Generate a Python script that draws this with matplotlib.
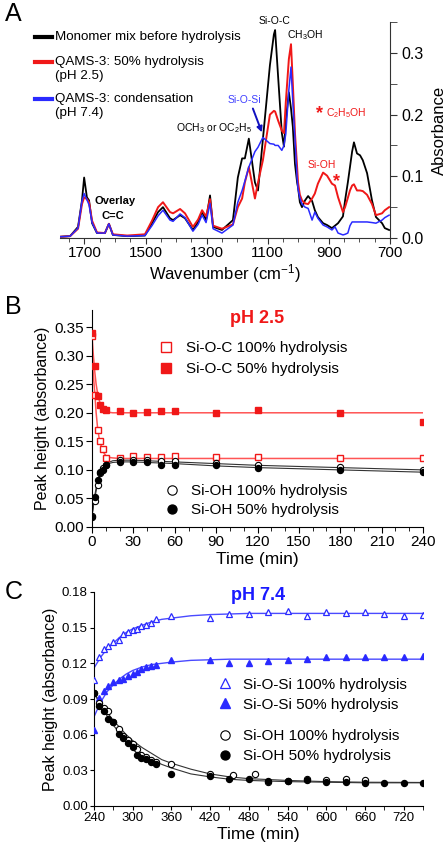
import matplotlib
matplotlib.use('Agg')
import matplotlib.pyplot as plt
from matplotlib.lines import Line2D
from matplotlib.ticker import MultipleLocator, FormatStrFormatter

plt.rcParams['font.family'] = ['Liberation Sans', 'DejaVu Sans']
plt.rcParams['mathtext.default'] = 'regular'

# ---------------- Panel A data (FTIR spectra) ----------------
wavenumber = [1780, 1747, 1721, 1708, 1701, 1692, 1685, 1675, 1659, 1633, 1620, 1607,
              1560, 1502, 1479, 1459, 1443, 1420, 1410, 1387, 1371, 1345, 1328, 1315,
              1302, 1289, 1279, 1250, 1214, 1198, 1184, 1175, 1162, 1142, 1132, 1116,
              1093, 1080, 1076, 1066, 1054, 1047, 1041, 1031, 1024, 1018, 1011, 1004,
              1001, 995, 988, 978, 968, 955, 946, 936, 919, 906, 890, 880, 870, 854,
              847, 838, 831, 824, 818, 808, 798, 789, 775, 759, 746, 726, 717, 703]
abs_monomer = [0.002, 0.003, 0.018, 0.061, 0.098, 0.066, 0.061, 0.024, 0.008, 0.008, 0.023, 0.005,
               0.003, 0.004, 0.024, 0.042, 0.050, 0.032, 0.029, 0.037, 0.032, 0.013, 0.026, 0.042,
               0.029, 0.069, 0.018, 0.013, 0.029, 0.098, 0.129, 0.129, 0.161, 0.090, 0.077, 0.160,
               0.280, 0.330, 0.337, 0.260, 0.170, 0.148, 0.190, 0.236, 0.210, 0.180, 0.120, 0.090,
               0.082, 0.058, 0.050, 0.061, 0.068, 0.060, 0.045, 0.034, 0.024, 0.021, 0.016, 0.020, 0.024, 0.035,
               0.061, 0.090, 0.115, 0.140, 0.155, 0.137, 0.134, 0.126, 0.105, 0.061, 0.034, 0.024, 0.016, 0.013]
abs_hydrolysis = [0.002, 0.003, 0.015, 0.055, 0.066, 0.063, 0.058, 0.028, 0.009, 0.008, 0.023, 0.006,
                  0.004, 0.006, 0.028, 0.050, 0.058, 0.042, 0.040, 0.047, 0.040, 0.018, 0.030, 0.045,
                  0.035, 0.063, 0.020, 0.015, 0.022, 0.050, 0.064, 0.090, 0.115, 0.064, 0.090, 0.126,
                  0.200, 0.206, 0.205, 0.190, 0.174, 0.170, 0.220, 0.290, 0.314, 0.250, 0.170, 0.115,
                  0.090, 0.070, 0.061, 0.056, 0.055, 0.064, 0.072, 0.088, 0.106, 0.101, 0.088, 0.085, 0.066, 0.042,
                  0.050, 0.065, 0.077, 0.085, 0.087, 0.077, 0.077, 0.076, 0.070, 0.055, 0.037, 0.040, 0.045, 0.050]
abs_condensation = [0.002, 0.003, 0.016, 0.060, 0.072, 0.062, 0.054, 0.025, 0.008, 0.008, 0.023, 0.005,
                    0.003, 0.004, 0.020, 0.036, 0.045, 0.029, 0.027, 0.039, 0.033, 0.011, 0.022, 0.037,
                    0.025, 0.056, 0.015, 0.008, 0.021, 0.058, 0.077, 0.092, 0.115, 0.140, 0.147, 0.163,
                    0.153, 0.152, 0.150, 0.150, 0.142, 0.150, 0.169, 0.240, 0.277, 0.220, 0.160, 0.098,
                    0.080, 0.065, 0.055, 0.050, 0.048, 0.029, 0.042, 0.032, 0.021, 0.018, 0.013, 0.018, 0.008, 0.005,
                    0.006, 0.008, 0.020, 0.026, 0.026, 0.026, 0.026, 0.026, 0.026, 0.025, 0.024, 0.029, 0.033, 0.037]
spectrum_labels = ['Monomer mix before hydrolysis', 'QAMS-3: 50% hydrolysis', 'QAMS-3: condensation']
spectrum_sublabels = ['', '(pH 2.5)', '(pH 7.4)']
a_xticks = [1700, 1500, 1300, 1100, 900, 700]
a_yticks = [0.0, 0.1, 0.2, 0.3]

# ---------------- Panel B data (pH 2.5) ----------------
time_b = [0, 2, 4, 6, 8, 10, 20, 30, 40, 50, 60, 90, 120, 180, 240]
sioc_100 = [0.335, 0.232, 0.169, 0.150, 0.136, 0.121, 0.121, 0.124, 0.123, 0.122, 0.125, 0.123, 0.123, 0.121, 0.120]
sioc_50 = [0.340, 0.282, 0.229, 0.214, 0.207, 0.205, 0.203, 0.200, 0.202, 0.203, 0.204, 0.200, 0.205, 0.200, 0.184]
sioh_100_b = [0.020, 0.045, 0.074, 0.094, 0.103, 0.108, 0.117, 0.117, 0.117, 0.116, 0.115, 0.112, 0.109, 0.105, 0.100]
sioh_50_b = [0.018, 0.053, 0.083, 0.096, 0.099, 0.109, 0.113, 0.114, 0.113, 0.108, 0.109, 0.108, 0.103, 0.099, 0.096]
fit_time_b = [0, 1, 2, 3, 4, 5, 6, 8, 10, 12, 15, 20, 30, 60, 90, 120, 180, 240]
fit_sioc_100 = [0.300, 0.265, 0.235, 0.200, 0.175, 0.158, 0.147, 0.132, 0.125, 0.122, 0.121, 0.120,
                0.120, 0.120, 0.120, 0.120, 0.120, 0.120]
fit_sioc_50 = [0.335, 0.300, 0.272, 0.250, 0.235, 0.224, 0.216, 0.207, 0.203, 0.201, 0.200, 0.200,
               0.200, 0.200, 0.200, 0.200, 0.200, 0.200]
fit_sioh_100_b = [0.020, 0.036, 0.050, 0.063, 0.075, 0.085, 0.092, 0.103, 0.109, 0.113, 0.116, 0.117,
                  0.117, 0.114, 0.111, 0.108, 0.104, 0.100]
fit_sioh_50_b = [0.018, 0.038, 0.055, 0.069, 0.080, 0.089, 0.095, 0.104, 0.109, 0.111, 0.113, 0.114,
                 0.114, 0.111, 0.107, 0.104, 0.100, 0.096]

# ---------------- Panel C data (pH 7.4) ----------------
time_c = [240, 247, 255, 262, 270, 278, 285, 293, 300, 306, 313, 320, 328, 336, 360,
          420, 450, 480, 510, 540, 570, 600, 630, 660, 690, 720, 750]
siosi_100 = [0.106, 0.125, 0.132, 0.135, 0.138, 0.140, 0.1445, 0.1465, 0.148, 0.149, 0.151, 0.152, 0.154, 0.157,
             0.160, 0.158, 0.1614, 0.1615, 0.1628, 0.1642, 0.1595, 0.1633, 0.162, 0.1633, 0.1614, 0.160, 0.1606]
siosi_50 = [0.064, 0.091, 0.097, 0.101, 0.104, 0.106, 0.107, 0.109, 0.111, 0.113, 0.115, 0.117, 0.118, 0.119,
            0.1225, 0.1225, 0.1206, 0.1206, 0.122, 0.1225, 0.124, 0.1257, 0.125, 0.1255, 0.1257, 0.1255, 0.126]
sioh_50_c = [0.095, 0.0845, 0.0797, 0.0733, 0.0704, 0.0606, 0.0572, 0.053, 0.050, 0.0431, 0.0403, 0.0395,
             0.0374, 0.0352, 0.0268, 0.0256, 0.0228, 0.0228, 0.0214, 0.0214, 0.022, 0.020, 0.0205, 0.0192,
             0.0192, 0.0192, 0.0197]
time_c_oh100 = [240, 247, 255, 262, 270, 278, 285, 293, 300, 306, 313, 320, 328, 336, 360,
                420, 455, 490, 510, 540, 570, 600, 630, 660]
sioh_100_c = [0.095, 0.0868, 0.0826, 0.0797, 0.071, 0.065, 0.0586, 0.0558, 0.0524, 0.048, 0.043, 0.041,
              0.0389, 0.037, 0.0352, 0.0268, 0.026, 0.0265, 0.0206, 0.0214, 0.0224, 0.0216, 0.0225, 0.0216]
fit_time_c = [240, 250, 260, 270, 280, 290, 300, 315, 330, 345, 360, 390, 420, 450, 480, 540, 600, 660, 750]
fit_siosi_100 = [0.116, 0.125, 0.132, 0.137, 0.142, 0.146, 0.149, 0.152, 0.155, 0.157, 0.158, 0.160,
                 0.161, 0.1615, 0.162, 0.162, 0.162, 0.162, 0.162]
fit_siosi_50 = [0.075, 0.087, 0.096, 0.102, 0.107, 0.111, 0.114, 0.117, 0.119, 0.120, 0.121, 0.1225,
                0.123, 0.1235, 0.1235, 0.1235, 0.1235, 0.1235, 0.1235]
fit_sioh_100_c = [0.095, 0.087, 0.079, 0.072, 0.066, 0.060, 0.055, 0.049, 0.044, 0.039, 0.036, 0.031,
                  0.027, 0.0245, 0.023, 0.0215, 0.0205, 0.020, 0.0198]
fit_sioh_50_c = [0.095, 0.085, 0.076, 0.068, 0.061, 0.055, 0.050, 0.044, 0.039, 0.035, 0.032, 0.027,
                 0.0245, 0.0225, 0.0215, 0.0205, 0.020, 0.0195, 0.0195]

# ---------------- styling ----------------
BLACK, RED, BLUE = '#000000', '#f01818', '#2a2aff'
RED_FIT, BLUE_FIT = '#ff5555', '#4a4aff'
W, H = 448, 852

fig = plt.figure(figsize=(W / 100, H / 100), dpi=100)


def rect(l, t, r, b):
    return [l / W, 1 - b / H, (r - l) / W, (b - t) / H]


def fpos(x, y):
    return x / W, 1 - y / H


axA = fig.add_axes(rect(60, 22, 390, 238))
axB = fig.add_axes(rect(92, 310, 423, 527))
axC = fig.add_axes(rect(94, 592, 423, 806))

# ---------------- Panel A ----------------
axA.plot(wavenumber, abs_monomer, color=BLACK, lw=1.3)
axA.plot(wavenumber, abs_hydrolysis, color=RED, lw=1.4)
axA.plot(wavenumber, abs_condensation, color=BLUE, lw=1.1)
axA.set_xlim(1780, 700)
axA.set_ylim(0, 0.35)
for s in ['left', 'top']:
    axA.spines[s].set_visible(False)
for s in ['right', 'bottom']:
    axA.spines[s].set_color('#333333')
axA.yaxis.tick_right()
axA.yaxis.set_label_position('right')
axA.set_xticks(a_xticks)
axA.xaxis.set_minor_locator(MultipleLocator(50))
axA.set_yticks(a_yticks)
axA.yaxis.set_major_formatter(FormatStrFormatter('%.1f'))
axA.yaxis.set_minor_locator(MultipleLocator(0.05))
axA.tick_params(axis='x', which='major', labelsize=11, length=4, color='#333333', pad=2)
axA.tick_params(axis='x', which='minor', length=3, color='#333333')
axA.tick_params(axis='y', which='major', labelsize=11.5, length=5, color='#333333', pad=3)
axA.tick_params(axis='y', which='minor', length=5, color='#333333')
axA.set_xlabel('Wavenumber (cm$^{-1}$)', fontsize=12, labelpad=1)
axA.set_ylabel('Absorbance', fontsize=12, labelpad=6)

# manual legend for A (handles on first text line)
legend_rows = [(37, BLACK, 0), (62, RED, 1), (99, BLUE, 2)]
for y, col, i in legend_rows:
    fig.add_artist(Line2D([35 / W, 52 / W], [1 - y / H] * 2, color=col, lw=3,
                          transform=fig.transFigure))
    fig.text(*fpos(55, y), spectrum_labels[i], fontsize=9.6, va='center', ha='left')
    if spectrum_sublabels[i]:
        fig.text(*fpos(55, y + 14), spectrum_sublabels[i], fontsize=9.6, va='center', ha='left')

# annotations in A
axA.text(1078, 0.352, 'Si-O-C', fontsize=7.5, ha='center', va='center', clip_on=False)
axA.text(978, 0.329, 'CH$_3$OH', fontsize=7.5, ha='center', va='center')
axA.text(1178, 0.224, 'Si-O-Si', fontsize=7.5, ha='center', va='center', color='#4040ff')
axA.annotate('', xy=(1116, 0.167), xytext=(1152, 0.214),
             arrowprops=dict(arrowstyle='-|>', color='#1010c0', lw=1.4, mutation_scale=8))
axA.text(1276, 0.178, 'OCH$_3$ or OC$_2$H$_5$', fontsize=7.5, ha='center', va='center')
axA.text(931, 0.201, '*', fontsize=13, ha='center', va='center', color=RED, fontweight='bold')
axA.text(910, 0.203, 'C$_2$H$_5$OH', fontsize=7.5, ha='left', va='center', color=RED)
axA.text(923, 0.118, 'Si-OH', fontsize=7.5, ha='center', va='center', color=RED)
axA.text(876, 0.091, '*', fontsize=13, ha='center', va='center', color=RED, fontweight='bold')
axA.text(1600, 0.060, 'Overlay', fontsize=8, ha='center', va='center', fontweight='bold')
axA.text(1607, 0.036, 'C=C', fontsize=8, ha='center', va='center', fontweight='bold')

# ---------------- Panel B ----------------
axB.plot(fit_time_b, fit_sioc_50, color=RED_FIT, lw=1.1, zorder=2)
axB.plot(fit_time_b, fit_sioc_100, color=RED_FIT, lw=1.1, zorder=2)
axB.plot(fit_time_b, fit_sioh_100_b, color='#333333', lw=0.8, zorder=2)
axB.plot(fit_time_b, fit_sioh_50_b, color='#333333', lw=0.8, zorder=2)
hb1, = axB.plot(time_b, sioc_100, 's', mfc='white', mec=RED, ms=5, mew=1, ls='none', zorder=3)
hb2, = axB.plot(time_b, sioc_50, 's', color=RED, ms=4.5, ls='none', zorder=3)
hb3, = axB.plot(time_b, sioh_100_b, 'o', mfc='white', mec=BLACK, ms=4.5, mew=0.8, ls='none', zorder=3)
hb4, = axB.plot(time_b, sioh_50_b, 'o', color=BLACK, ms=4.3, ls='none', zorder=3)
axB.set_xlim(0, 240)
axB.set_ylim(0, 0.38)
axB.set_xticks(range(0, 241, 30))
axB.xaxis.set_minor_locator(MultipleLocator(10))
axB.set_yticks([0, 0.05, 0.10, 0.15, 0.20, 0.25, 0.30, 0.35])
axB.yaxis.set_major_formatter(FormatStrFormatter('%.2f'))
for s in ['top', 'right']:
    axB.spines[s].set_visible(False)
axB.tick_params(which='major', labelsize=11, length=4, pad=2)
axB.tick_params(which='minor', length=3)
axB.set_xlabel('Time (min)', fontsize=12.5, labelpad=2)
axB.set_ylabel('Peak height (absorbance)', fontsize=11.5, labelpad=3)
axB.text(0.5, 0.96, 'pH 2.5', transform=axB.transAxes, color=RED, fontsize=13,
         fontweight='bold', ha='center', va='center')
legB1 = axB.legend([hb1, hb2], ['Si-O-C 100% hydrolysis', 'Si-O-C 50% hydrolysis'],
                   loc='upper left', bbox_to_anchor=(0.20, 0.855), frameon=False, fontsize=11,
                   markerscale=1.5, handlelength=1.0, handletextpad=0.85, borderpad=0,
                   borderaxespad=0, labelspacing=0.42, numpoints=1)
axB.add_artist(legB1)
axB.legend([hb3, hb4], ['Si-OH 100% hydrolysis', 'Si-OH 50% hydrolysis'],
           loc='upper left', bbox_to_anchor=(0.22, 0.198), frameon=False, fontsize=11,
           markerscale=1.5, handlelength=1.0, handletextpad=0.7, borderpad=0,
           borderaxespad=0, labelspacing=0.35, numpoints=1)

# ---------------- Panel C ----------------
axC.plot(fit_time_c, fit_siosi_100, color=BLUE_FIT, lw=1.0, zorder=2)
axC.plot(fit_time_c, fit_siosi_50, color=BLUE_FIT, lw=1.0, zorder=2)
axC.plot(fit_time_c, fit_sioh_100_c, color='#333333', lw=0.8, zorder=2)
axC.plot(fit_time_c, fit_sioh_50_c, color='#333333', lw=0.8, zorder=2)
hc1, = axC.plot(time_c, siosi_100, '^', mfc='white', mec=BLUE, ms=5, mew=0.9, ls='none', zorder=3)
hc2, = axC.plot(time_c, siosi_50, '^', color=BLUE, ms=4.5, ls='none', zorder=3)
hc3, = axC.plot(time_c_oh100, sioh_100_c, 'o', mfc='white', mec=BLACK, ms=4.5, mew=0.8, ls='none', zorder=3)
hc4, = axC.plot(time_c, sioh_50_c, 'o', color=BLACK, ms=4.3, ls='none', zorder=3)
axC.set_xlim(240, 750)
axC.set_ylim(0, 0.18)
axC.set_xticks(range(240, 721, 60))
axC.xaxis.set_minor_locator(MultipleLocator(30))
axC.set_yticks([0, 0.03, 0.06, 0.09, 0.12, 0.15, 0.18])
axC.yaxis.set_major_formatter(FormatStrFormatter('%.2f'))
for s in ['top', 'right']:
    axC.spines[s].set_visible(False)
axC.tick_params(which='major', labelsize=9.5, length=3, pad=1.5)
axC.tick_params(which='minor', length=3)
axC.set_xlabel('Time (min)', fontsize=12.5, labelpad=2)
axC.set_ylabel('Peak height (absorbance)', fontsize=11.5, labelpad=3)
axC.text(0.5, 0.985, 'pH 7.4', transform=axC.transAxes, color='#1a1aff', fontsize=13,
         fontweight='bold', ha='center', va='center')
legC1 = axC.legend([hc1, hc2], ['Si-O-Si 100% hydrolysis', 'Si-O-Si 50% hydrolysis'],
                   loc='upper left', bbox_to_anchor=(0.375, 0.60), frameon=False, fontsize=11,
                   markerscale=1.5, handlelength=1.0, handletextpad=0.7, borderpad=0,
                   borderaxespad=0, labelspacing=0.4, numpoints=1)
axC.add_artist(legC1)
axC.legend([hc3, hc4], ['Si-OH 100% hydrolysis', 'Si-OH 50% hydrolysis'],
           loc='upper left', bbox_to_anchor=(0.375, 0.36), frameon=False, fontsize=11,
           markerscale=1.5, handlelength=1.0, handletextpad=0.7, borderpad=0,
           borderaxespad=0, labelspacing=0.42, numpoints=1)

# panel letters
fig.text(*fpos(13, 14), 'A', fontsize=18, ha='center', va='center')
fig.text(*fpos(13, 307), 'B', fontsize=18, ha='center', va='center')
fig.text(*fpos(14, 592), 'C', fontsize=18, ha='center', va='center')

fig.savefig('out.png', dpi=100)
